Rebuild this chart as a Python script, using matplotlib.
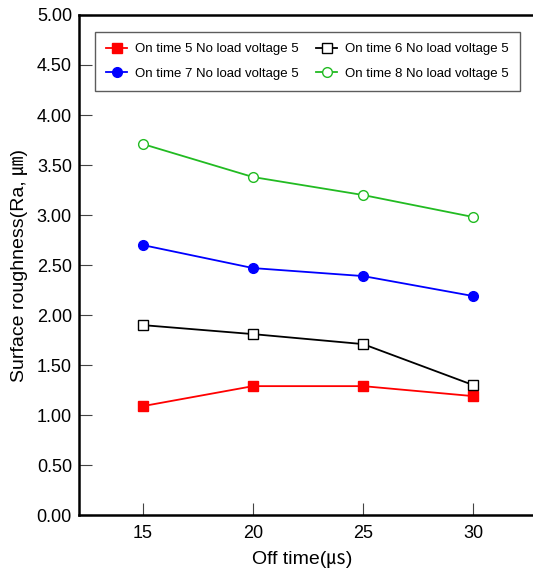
import matplotlib
matplotlib.use("Agg")
import matplotlib.pyplot as plt

plt.rcParams['font.family'] = ['Liberation Sans', 'Noto Sans CJK KR', 'DejaVu Sans']

off_time = [15, 20, 25, 30]
ra_on5 = [1.09, 1.29, 1.29, 1.19]
ra_on6 = [1.90, 1.81, 1.71, 1.30]
ra_on7 = [2.70, 2.47, 2.39, 2.19]
ra_on8 = [3.71, 3.38, 3.20, 2.98]
y_ticks = [0.0, 0.5, 1.0, 1.5, 2.0, 2.5, 3.0, 3.5, 4.0, 4.5, 5.0]

fig = plt.figure(figsize=(5.33, 5.75), dpi=100)
ax = fig.add_axes([0.148, 0.104, 0.86, 0.870])

l5, = ax.plot(off_time, ra_on5, color='red', marker='s', markersize=7,
              markerfacecolor='red', markeredgecolor='red', lw=1.3,
              label='On time 5 No load voltage 5')
l6, = ax.plot(off_time, ra_on6, color='black', marker='s', markersize=7,
              markerfacecolor='white', markeredgecolor='black', lw=1.3,
              label='On time 6 No load voltage 5')
l7, = ax.plot(off_time, ra_on7, color='blue', marker='o', markersize=7,
              markerfacecolor='blue', markeredgecolor='blue', lw=1.3,
              label='On time 7 No load voltage 5')
l8, = ax.plot(off_time, ra_on8, color='#22bb22', marker='o', markersize=7,
              markerfacecolor='white', markeredgecolor='#22bb22', lw=1.3,
              label='On time 8 No load voltage 5')

ax.set_xlim(12.1, 32.9)
ax.set_ylim(0, 5)
ax.set_xticks(off_time)
ax.set_yticks(y_ticks)
ax.set_yticklabels([f'{v:.2f}' for v in y_ticks])
ax.tick_params(direction='in', length=9, width=0.8, color='#444444', labelsize=13)
ax.tick_params(axis='y', pad=5)
ax.tick_params(axis='x', pad=7)
ax.spines['right'].set_visible(False)
for side in ('left', 'bottom', 'top'):
    ax.spines[side].set_linewidth(1.8)

ax.set_xlabel('Off time(\u33b2)', fontsize=14)
ax.xaxis.set_label_coords(0.487, -0.072)
ax.set_ylabel('Surface roughness(Ra, \u339b)', fontsize=14, labelpad=6)

# two rows: 5/6 on top, 7/8 below
leg = ax.legend([l5, l7, l6, l8], [l.get_label() for l in (l5, l7, l6, l8)],
                ncol=2, loc='upper left', bbox_to_anchor=(0.035, 0.966),
                borderaxespad=0, fontsize=9.5, frameon=True, fancybox=False,
                edgecolor='#333333', handlelength=1.6, handletextpad=0.6,
                columnspacing=1.3, borderpad=0.85, labelspacing=0.9)
leg.get_frame().set_linewidth(1.0)

fig.savefig('out.png', dpi=100)
